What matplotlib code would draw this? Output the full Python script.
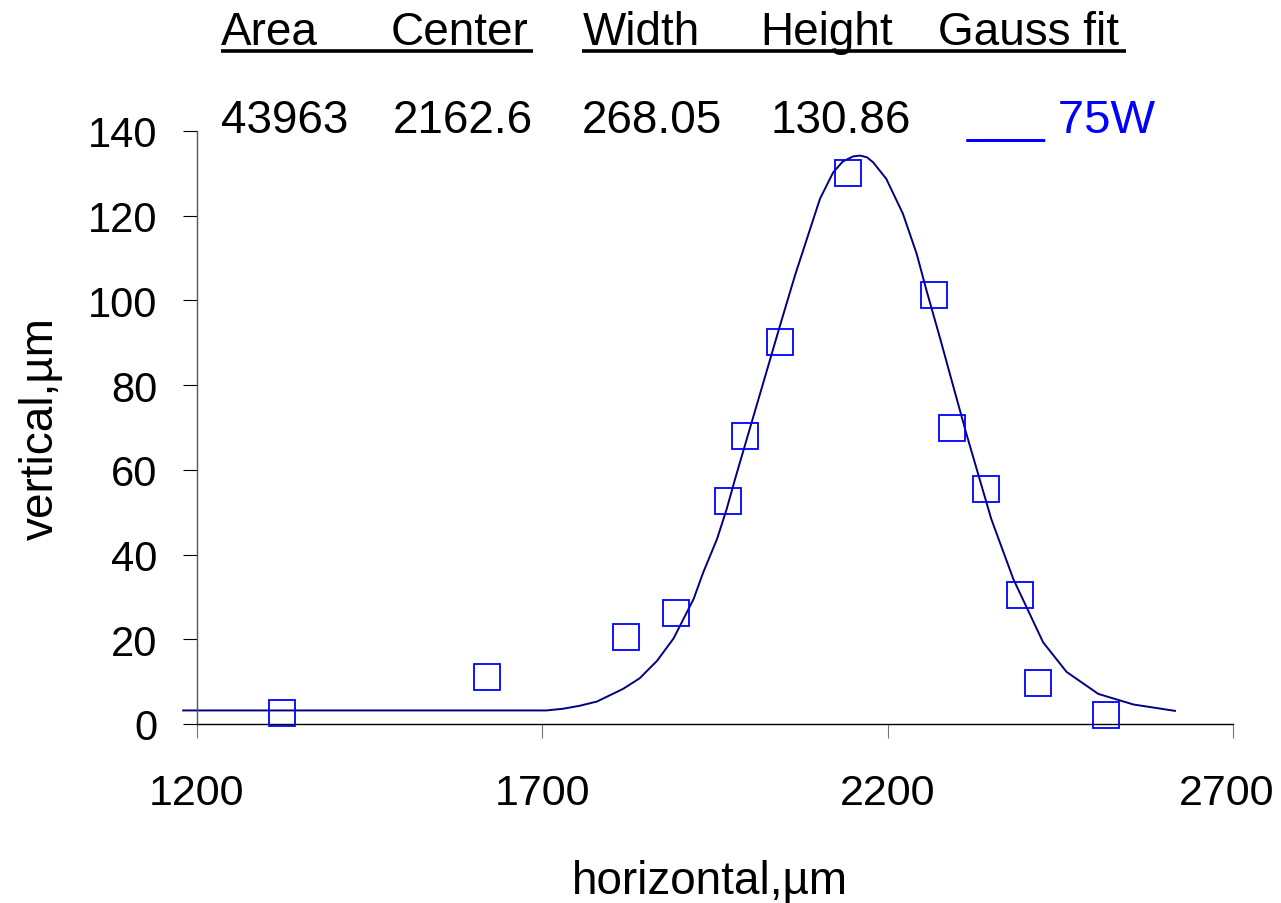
import matplotlib
matplotlib.use("Agg")
import matplotlib.pyplot as plt
from matplotlib.lines import Line2D
import matplotlib.transforms as mtransforms

# ---- data ----
meas_x = [1323, 1620, 1821, 1893, 1969, 1993, 2044, 2142, 2267, 2293, 2342, 2392, 2418, 2516]
meas_y = [2.5, 11.1, 20.5, 26.2, 52.6, 68.0, 90.3, 130.0, 101.2, 70.0, 55.4, 30.5, 9.7, 2.1]

fit_x = [1180, 1706, 1730, 1754, 1779, 1817, 1841, 1866, 1890, 1919, 1933, 1953, 1967, 1979,
         2000, 2018, 2044, 2066, 2080, 2102, 2121, 2135, 2150, 2160, 2170, 2179, 2198, 2222, 2242,
         2256, 2276, 2292, 2314, 2350, 2382, 2425, 2459, 2505, 2556, 2616]
fit_y = [3.2, 3.2, 3.6, 4.3, 5.3, 8.3, 10.8, 14.9, 20.2, 29.5, 35.8, 43.7, 50.8, 57.8,
         69.5, 79.5, 94.0, 106.0, 113.0, 124.0, 130.2, 132.8, 134.0, 134.2, 133.8, 132.6, 128.7, 120.5, 111.0,
         102.5, 91.0, 81.5, 68.5, 48.4, 34.2, 19.3, 12.3, 7.1, 4.6, 3.1]

x_ticks = [1200, 1700, 2200, 2700]
y_ticks = [0, 20, 40, 60, 80, 100, 120, 140]

header_labels = ["Area", "Center", "Width", "Height", "Gauss fit"]
header_values = ["43963", "2162.6", "268.05", "130.86"]
series_label = "___ 75W"

# ---- figure ----
W, H = 1281, 904
fig = plt.figure(figsize=(W / 100, H / 100), dpi=100)
plt.rcParams['font.family'] = ['Liberation Sans', 'DejaVu Sans']

ax = fig.add_axes([197 / W, 1 - 725 / H, 1036 / W, 593 / H])

ax.plot(fit_x, fit_y, color='#000080', lw=1.4, clip_on=False, zorder=2,
        solid_joinstyle='round')
ax.plot(meas_x, meas_y, linestyle='none', marker='s', markersize=18.5,
        markerfacecolor='none', markeredgecolor='#0000FF', markeredgewidth=1.3,
        clip_on=False, zorder=3)

ax.set_xlim(1200, 2700)
ax.set_ylim(0, 140)
ax.set_xticks(x_ticks)
ax.set_yticks(y_ticks)
for s in ['top', 'right']:
    ax.spines[s].set_visible(False)
ax.spines['left'].set_color('#555555')
ax.spines['bottom'].set_color('black')
ax.spines['left'].set_linewidth(1.0)
ax.spines['bottom'].set_linewidth(1.0)

ax.tick_params(axis='y', direction='out', length=10, width=0.8, color='black',
               pad=18.5, labelsize=30)
ax.tick_params(axis='x', direction='out', length=10, width=0.8, color='#777777',
               pad=25, labelsize=31)

# nudge the last x tick label inward so it stays inside the canvas
last = ax.get_xticklabels()[-1]
last.set_transform(last.get_transform() + mtransforms.ScaledTranslation(-6 / 100, 0, fig.dpi_scale_trans))

fig.text(41 / W, 1 - 428.5 / H, "vertical,µm", rotation=90, ha='center', va='center', fontsize=33)
fig.text(710 / W, 1 - 882 / H, "horizontal,µm", ha='center', va='center', fontsize=33)

# header rows
hx = [221, 391, 583, 760, 938]
for t, x in zip(header_labels, hx):
    fig.text(x / W, 1 - 45 / H, t, ha='left', va='baseline', fontsize=33)
vx = [221, 393, 582, 770]
for t, x in zip(header_values, vx):
    fig.text(x / W, 1 - 133 / H, t, ha='left', va='baseline', fontsize=33)
fig.text(967 / W, 1 - 133 / H, series_label, ha='left', va='baseline', fontsize=34, color='#0000FF')

for x0, x1 in [(221, 533), (582, 1126)]:
    fig.add_artist(Line2D([x0 / W, x1 / W], [1 - 52 / H, 1 - 52 / H], transform=fig.transFigure,
                          color='black', lw=2.6, solid_capstyle='butt'))

fig.savefig("out.png", dpi=100, facecolor='white')
